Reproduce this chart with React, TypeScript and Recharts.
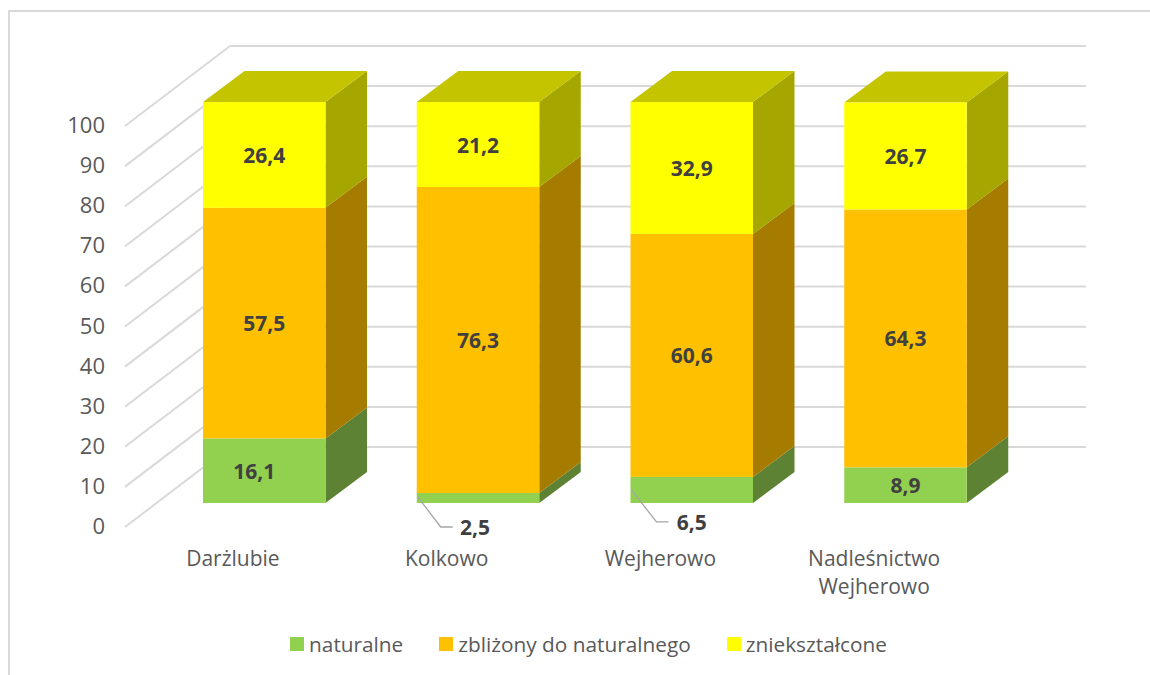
import { BarChart, Bar, XAxis, YAxis, Legend, LabelList, CartesianGrid } from "recharts";

const categories = ["Darżlubie", "Kolkowo", "Wejherowo", "Nadleśnictwo Wejherowo"];
const naturalne = [16.1, 2.5, 6.5, 8.9];
const zblizony = [57.5, 76.3, 60.6, 64.3];
const znieksztalcone = [26.4, 21.2, 32.9, 26.7];
const yTicks = [0, 10, 20, 30, 40, 50, 60, 70, 80, 90, 100];

const chartData = categories.map((name, i) => ({
  name,
  naturalne: naturalne[i],
  zblizony: zblizony[i],
  znieksztalcone: znieksztalcone[i],
}));

const FONT = '"Open Sans", sans-serif';
const AXIS_COLOR = "#595959";
const LABEL_COLOR = "#404040";
const GRID_COLOR = "#d9d9d9";

// extrusion of the columns
const DEPTH_X = 41.5;
const DEPTH_Y = 31;

// wall and floor of the 3D box, relative to a column's baseline
const WALL_X = 230;
const WALL_RIGHT = 1086;
const WALL_DY = -56;
const FLOOR_X = 125;
const FLOOR_DY = 24;

interface FaceColors {
  front: string;
  side: string;
  top?: string;
}

const GREEN: FaceColors = { front: "#92d050", side: "#5e8233" };
const ORANGE: FaceColors = { front: "#ffc000", side: "#a67c00" };
const YELLOW: FaceColors = { front: "#ffff00", side: "#a6a600", top: "#c4c400" };

function Column3D(props: any) {
  const { x, y, width, height, colors } = props;
  const r = x + width;
  const b = y + height;
  return (
    <g>
      <polygon
        points={`${r},${y} ${r + DEPTH_X},${y - DEPTH_Y} ${r + DEPTH_X},${b - DEPTH_Y} ${r},${b}`}
        fill={colors.side}
      />
      {colors.top && (
        <polygon
          points={`${x},${y} ${x + DEPTH_X},${y - DEPTH_Y} ${r + DEPTH_X},${y - DEPTH_Y} ${r},${y}`}
          fill={colors.top}
        />
      )}
      <rect x={x} y={y} width={width} height={height} fill={colors.front} />
    </g>
  );
}

// one grid step: a diagonal on the floor side and a line along the back wall
function WallLine(props: any) {
  const y = props.y1;
  return (
    <g>
      <line x1={FLOOR_X} y1={y + FLOOR_DY} x2={WALL_X} y2={y + WALL_DY} stroke={GRID_COLOR} strokeWidth={2} />
      <line x1={WALL_X} y1={y + WALL_DY} x2={WALL_RIGHT} y2={y + WALL_DY} stroke={GRID_COLOR} strokeWidth={2} />
    </g>
  );
}

function ValueTick(props: any) {
  const { y, payload } = props;
  return (
    <text
      x={105}
      y={y + 22}
      textAnchor="end"
      dominantBaseline="central"
      fontFamily={FONT}
      fontSize={22}
      fill={AXIS_COLOR}
    >
      {payload.value}
    </text>
  );
}

function CategoryTick(props: any) {
  const { x, payload } = props;
  const lines = String(payload.value).split(" ");
  return (
    <text x={x - 31} y={558} textAnchor="middle" fontFamily={FONT} fontSize={21} fill={AXIS_COLOR}>
      {lines.map((line: string, i: number) => (
        <tspan key={line} x={x - 31} y={558 + i * 28} dominantBaseline="central">
          {line}
        </tspan>
      ))}
    </text>
  );
}

const fmt = (v: number) => String(v).replace(".", ",");

function ValueLabel(props: any) {
  const { x, y, width, height, value, shiftX = 0 } = props;
  return (
    <text
      x={x + width / 2 + shiftX}
      y={y + height / 2}
      textAnchor="middle"
      dominantBaseline="central"
      fontFamily={FONT}
      fontSize={21}
      fontWeight={700}
      fill={LABEL_COLOR}
    >
      {fmt(value)}
    </text>
  );
}

// the green segment: first label nudged left, thin ones pulled out with a leader
function GreenLabel(props: any) {
  const { x, y, width, height, value, index } = props;
  if (index === 0) return <ValueLabel {...props} shiftX={-10} />;
  if (index === 3) return <ValueLabel {...props} />;
  const midY = y + height / 2;
  const dy = index === 1 ? 29 : 32;
  const startY = index === 1 ? y + 4 : y + 13;
  const elbowX = index === 1 ? x + 24 : x + 26;
  const endX = elbowX + 12;
  const cx = x + width / 2 + (index === 1 ? -3 : 0);
  return (
    <g>
      <polyline
        points={`${x + 1},${startY} ${elbowX},${midY + dy} ${endX},${midY + dy}`}
        fill="none"
        stroke="#a6a6a6"
        strokeWidth={1.3}
      />
      <text
        x={cx}
        y={midY + dy}
        textAnchor="middle"
        dominantBaseline="central"
        fontFamily={FONT}
        fontSize={21}
        fontWeight={700}
        fill={LABEL_COLOR}
      >
        {fmt(value)}
      </text>
    </g>
  );
}

function LegendRow({ payload }: any) {
  return (
    <div style={{ display: "flex", justifyContent: "center", gap: 36, fontFamily: FONT, fontSize: 20.8, color: AXIS_COLOR, height: 28, lineHeight: "28px" }}>
      {(payload ?? []).map((item: any) => (
        <div key={item.value} style={{ display: "flex", alignItems: "center" }}>
          <span style={{ width: 14, height: 14, background: item.color, marginRight: 5 }} />
          {item.value}
        </div>
      ))}
    </div>
  );
}

export default function App() {
  return (
    <div style={{ position: "absolute", left: 0, top: 0, width: 1150, height: 675, background: "#fff", overflow: "hidden" }}>
      <div style={{ position: "absolute", left: 8, top: 10, right: 0, bottom: 0, borderLeft: `2px solid ${GRID_COLOR}`, borderTop: `2px solid ${GRID_COLOR}` }} />
      <BarChart
        width={1150}
        height={675}
        data={chartData}
        margin={{ top: 102, right: 138, bottom: 84, left: 97 }}
        barSize={122.5}
        style={{ position: "absolute", left: 0, top: 0 }}
      >
        <CartesianGrid vertical={false} horizontal={(p: any) => <WallLine {...p} />} />
        <YAxis width={60} domain={[0, 100]} ticks={yTicks} axisLine={false} tickLine={false} tick={<ValueTick />} interval={0} />
        <XAxis dataKey="name" height={60} axisLine={false} tickLine={false} tick={<CategoryTick />} interval={0} />
        <Legend
          content={<LegendRow />}
          wrapperStyle={{ position: "absolute", left: 13.5, top: 630, width: 1150, height: 28 }}
        />
        <Bar
          dataKey="naturalne"
          name="naturalne"
          stackId="a"
          fill={GREEN.front}
          isAnimationActive={false}
          shape={<Column3D colors={GREEN} />}
        >
          <LabelList dataKey="naturalne" content={<GreenLabel />} />
        </Bar>
        <Bar
          dataKey="zblizony"
          name="zbliżony do naturalnego"
          stackId="a"
          fill={ORANGE.front}
          isAnimationActive={false}
          shape={<Column3D colors={ORANGE} />}
        >
          <LabelList dataKey="zblizony" content={<ValueLabel />} />
        </Bar>
        <Bar
          dataKey="znieksztalcone"
          name="zniekształcone"
          stackId="a"
          fill={YELLOW.front}
          isAnimationActive={false}
          shape={<Column3D colors={YELLOW} />}
        >
          <LabelList dataKey="znieksztalcone" content={<ValueLabel />} />
        </Bar>
      </BarChart>
    </div>
  );
}
